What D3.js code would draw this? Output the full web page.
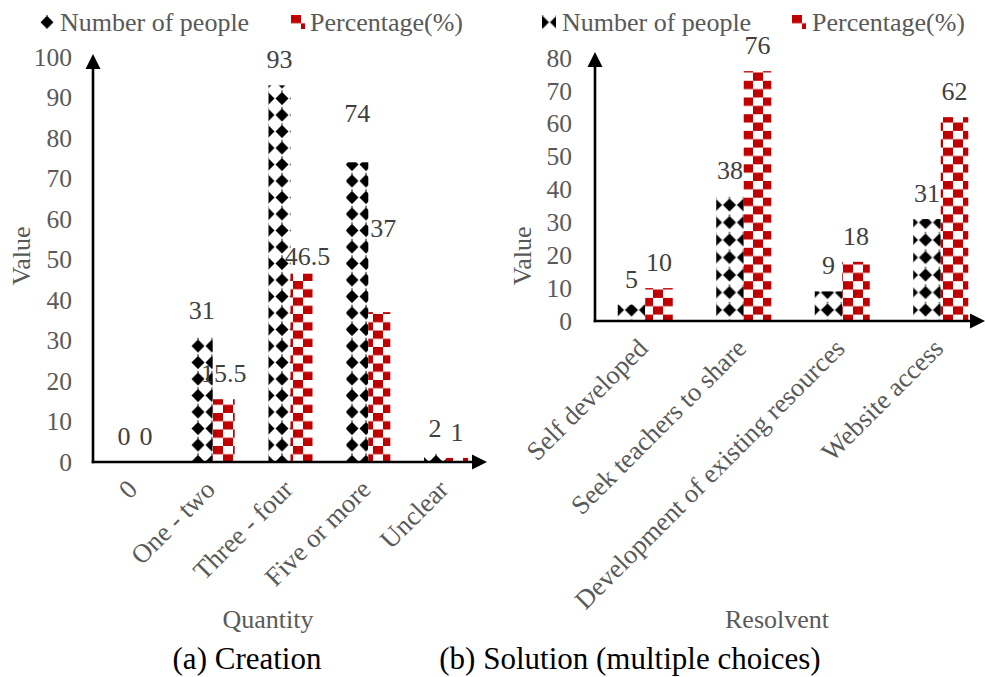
<!DOCTYPE html>
<html><head><meta charset="utf-8">
<script src="https://cdn.jsdelivr.net/npm/d3@7"></script>
<style>
body{margin:0;background:#fff}
svg text{font-family:"Liberation Serif","Times New Roman",serif}
</style>
</head><body>
<svg id="c" width="985" height="677"></svg>
<script>
// ---------- data ----------
const seriesNames = ["Number of people", "Percentage(%)"];
const catsA = ["0", "One - two", "Three - four", "Five or more", "Unclear"];
const peopleA = [0, 31, 93, 74, 2];
const pctA = [0, 15.5, 46.5, 37, 1];
const ticksA = [0, 10, 20, 30, 40, 50, 60, 70, 80, 90, 100];
const catsB = ["Self developed", "Seek teachers to share", "Development of existing resources", "Website access"];
const peopleB = [5, 38, 9, 31];
const pctB = [10, 76, 18, 62];
const ticksB = [0, 10, 20, 30, 40, 50, 60, 70, 80];
const titlesA = {x: "Quantity", y: "Value", caption: "(a) Creation"};
const titlesB = {x: "Resolvent", y: "Value", caption: "(b) Solution (multiple choices)"};

// label nudges (manual placement in the original), styling only
const nudgeA = {"1|Three - four": [6, 8], "0|Five or more": [0, -23], "1|Five or more": [4, -58]};

// ---------- styles ----------
const RED = "#C00000", GREY = "#595959", LBL = "#404040";
const FS = 25.5, FL = 26, FC = 26.5;

const svg = d3.select("#c");
const defs = svg.append("defs");

function diamondPattern(id, ox, oy, w, h) {
  const p = defs.append("pattern").attr("id", id).attr("patternUnits", "userSpaceOnUse")
    .attr("x", ox).attr("y", oy).attr("width", w).attr("height", h);
  p.append("rect").attr("width", w).attr("height", h).attr("fill", "#fff");
  const cx = w / 2, cy = h / 2, r = 6.5;
  p.append("path").attr("d", `M${cx},${cy - r}L${cx + r},${cy}L${cx},${cy + r}L${cx - r},${cy}Z`).attr("fill", "#000");
  p.append("rect").attr("x", cx - 0.6).attr("y", cy - r - 1.5).attr("width", 1.2).attr("height", 1.5).attr("fill", "#000");
}
function checkerPattern(id, ox, oy, w, h) {
  const p = defs.append("pattern").attr("id", id).attr("patternUnits", "userSpaceOnUse")
    .attr("x", ox).attr("y", oy).attr("width", w).attr("height", h);
  p.append("rect").attr("width", w).attr("height", h).attr("fill", "#fff");
  p.append("rect").attr("x", 0).attr("y", 0).attr("width", w / 2).attr("height", h / 2).attr("fill", RED);
  p.append("rect").attr("x", w / 2).attr("y", h / 2).attr("width", w / 2).attr("height", h / 2).attr("fill", RED);
}
diamondPattern("dA", 9, 7.75, 14, 16.5);
checkerPattern("cA", 13, 0.5, 20, 16.5);
diamondPattern("dB", 8.5, 3.75, 14, 17.5);
checkerPattern("cB", 3, 14, 20, 16.7);
diamondPattern("dL1", 40, 14, 14, 16.5);
diamondPattern("dL2", 535.5, 14, 14, 16.5);
checkerPattern("cL1", 291, 15, 20, 16.5);
checkerPattern("cL2", 792, 15, 20, 16.5);

function arrowLine(g, x1, y1, x2, y2) {
  const dx = x2 - x1, dy = y2 - y1, L = Math.hypot(dx, dy), ux = dx / L, uy = dy / L;
  const al = 15, aw = 7.5;
  const bx = x2 - ux * al, by = y2 - uy * al;
  g.append("line").attr("x1", x1).attr("y1", y1).attr("x2", bx + ux).attr("y2", by + uy)
    .attr("stroke", "#000").attr("stroke-width", 2.6);
  g.append("path").attr("d", `M${x2},${y2}L${bx - uy * aw},${by + ux * aw}L${bx + uy * aw},${by - ux * aw}Z`).attr("fill", "#000");
}

function drawChart(cfg) {
  const g = svg.append("g");
  const x = d3.scaleBand().domain(cfg.cats).range(cfg.xr).padding(0);
  const y = d3.scaleLinear().domain([0, d3.max(cfg.ticks)]).range(cfg.yr);
  const y0 = y(0);

  // y axis labels
  const ya = d3.axisLeft(y).tickValues(cfg.ticks).tickSize(0).tickPadding(cfg.tickPad);
  const yg = g.append("g").attr("transform", `translate(${cfg.axisX},0)`).call(ya);
  yg.select(".domain").remove();
  yg.selectAll("text").attr("fill", GREY).style("font-size", FS + "px")
    .style("font-family", '"Liberation Serif","Times New Roman",serif');

  // x axis labels
  const xa = d3.axisBottom(x).tickSize(0);
  const xg = g.append("g").attr("transform", `translate(0,${y0})`).call(xa);
  xg.select(".domain").remove();
  xg.selectAll("text").attr("fill", GREY).style("font-size", FC + "px")
    .style("font-family", '"Liberation Serif","Times New Roman",serif')
    .attr("y", 0).attr("dy", 0).attr("text-anchor", "end")
    .attr("transform", "translate(4,29) rotate(-45)");

  // bars
  const bw = cfg.bw;
  const series = [cfg.people, cfg.pct];
  const fills = [cfg.dFill, cfg.cFill];
  series.forEach((vals, si) => {
    g.append("g").selectAll("rect").data(cfg.cats).join("rect")
      .attr("x", (c) => x(c) + x.bandwidth() / 2 - bw + si * bw)
      .attr("y", (c, i) => y(vals[i]))
      .attr("width", bw)
      .attr("height", (c, i) => y0 - y(vals[i]))
      .attr("fill", `url(#${fills[si]})`);
  });
  // labels
  series.forEach((vals, si) => {
    g.append("g").selectAll("text").data(cfg.cats).join("text")
      .attr("x", (c) => x(c) + x.bandwidth() / 2 - bw / 2 + si * bw + ((cfg.nudge[si + "|" + c] || [0, 0])[0]))
      .attr("y", (c, i) => y(vals[i]) - 17 + ((cfg.nudge[si + "|" + c] || [0, 0])[1]))
      .attr("text-anchor", "middle").attr("fill", LBL).style("font-size", FL + "px")
      .text((c, i) => vals[i]);
  });

  // axes with arrows
  arrowLine(g, cfg.axisX, y0 + 1.3, cfg.axisX, cfg.yTip);
  arrowLine(g, cfg.axisX - 1.3, y0, cfg.xTip, y0);

  // titles
  g.append("text").attr("x", cfg.xTitle[0]).attr("y", cfg.xTitle[1]).attr("text-anchor", "middle")
    .attr("fill", GREY).style("font-size", FL + "px").text(cfg.titles.x);
  g.append("text").attr("transform", `translate(${cfg.yTitle[0]},${cfg.yTitle[1]}) rotate(-90)`)
    .attr("text-anchor", "middle").attr("fill", GREY).style("font-size", FL + "px").text(cfg.titles.y);
  g.append("text").attr("x", cfg.cap[0]).attr("y", cfg.cap[1]).attr("text-anchor", "middle")
    .attr("fill", "#000").style("font-size", "31px").text(cfg.titles.caption);

  // legend
  const lg = g.append("g");
  lg.append("rect").attr("x", cfg.leg[0]).attr("y", 15).attr("width", 14).attr("height", 14).attr("fill", `url(#${cfg.legFills[0]})`);
  lg.append("text").attr("x", cfg.leg[1]).attr("y", 31).attr("fill", GREY).style("font-size", FL + "px").text(seriesNames[0]);
  lg.append("rect").attr("x", cfg.leg[2]).attr("y", 15).attr("width", 14).attr("height", 14).attr("fill", `url(#${cfg.legFills[1]})`);
  lg.append("text").attr("x", cfg.leg[3]).attr("y", 31).attr("fill", GREY).style("font-size", FL + "px").text(seriesNames[1]);
}

drawChart({
  cats: catsA, people: peopleA, pct: pctA, ticks: ticksA, titles: titlesA, nudge: nudgeA,
  xr: [96, 485], yr: [462, 57], axisX: 93, tickPad: 21, bw: 22, yTip: 54, xTip: 487,
  dFill: "dA", cFill: "cA",
  xTitle: [268, 628], yTitle: [30, 256], cap: [247, 669],
  leg: [40, 60, 291, 310], legFills: ["dL1", "cL1"]
});
drawChart({
  cats: catsB, people: peopleB, pct: pctB, ticks: ticksB, titles: titlesB, nudge: {},
  xr: [596, 990], yr: [321, 58], axisX: 595, tickPad: 23, bw: 27.5, yTip: 52, xTip: 985,
  dFill: "dB", cFill: "cB",
  xTitle: [777, 628], yTitle: [531, 256], cap: [630, 669],
  leg: [542, 562, 792, 812], legFills: ["dL2", "cL2"]
});
</script>
</body></html>
